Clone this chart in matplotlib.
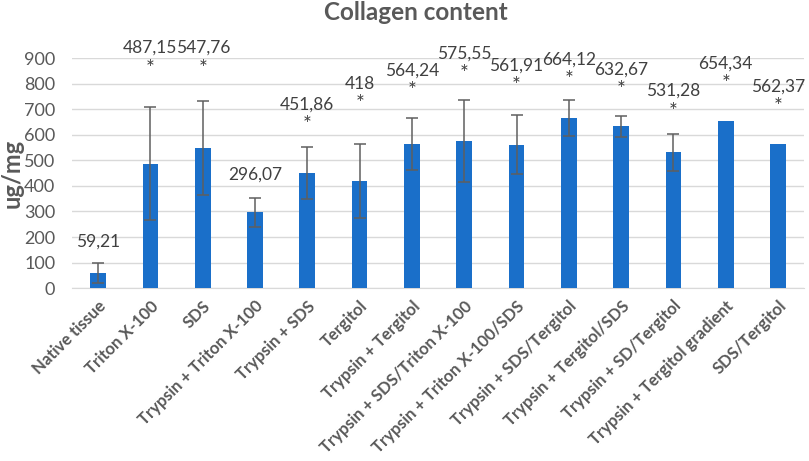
import numpy as np
import matplotlib.pyplot as plt

plt.rcParams['font.family'] = ['Lato', 'DejaVu Sans']

# données
categories = ['Native tissue', 'Triton X-100', 'SDS', 'Trypsin + Triton X-100',
              'Trypsin + SDS', 'Tergitol', 'Trypsin + Tergitol',
              'Trypsin + SDS/Triton X-100', 'Trypsin + Triton X-100/SDS',
              'Trypsin + SDS/Tergitol', 'Trypsin + Tergitol/SDS',
              'Trypsin + SD/Tergitol', 'Trypsin + Tergitol gradient', 'SDS/Tergitol']
values = [59.21, 487.15, 547.76, 296.07, 451.86, 418, 564.24, 575.55,
          561.91, 664.12, 632.67, 531.28, 654.34, 562.37]
errors = [38, 220, 184, 58, 102, 145, 101, 160, 115, 70, 41, 72, 0, 0]
significant = [False, True, True, False, True, True, True, True, True,
               True, True, True, True, True]

# hauteur des étiquettes (placées à la main dans l'original)
label_y = [182, 939, 939, 445, 718, 800, 852, 917, 871, 893, 854, 771, 880, 789]

grey = '#595959'
x = np.arange(len(categories))

fig = plt.figure(figsize=(8.09, 4.61), dpi=100)
ax = fig.add_axes([0.089, 0.375, 0.905, 0.499])

ax.bar(x, values, width=0.3, color='#1a6fc9', zorder=3)
errs = np.array(errors, dtype=float)
mask = errs > 0
ax.errorbar(x[mask], np.array(values)[mask], yerr=errs[mask], fmt='none',
            ecolor='#5f5f5f', elinewidth=1.1, capsize=4, capthick=1.1, zorder=4)

for xi, v, ly, sig in zip(x, values, label_y, significant):
    txt = f'{v:g}'.replace('.', ',')
    ax.text(xi, ly, txt, ha='center', va='center', fontsize=12.5,
            color='#404040', clip_on=False)
    if sig:
        ax.text(xi, ly - 80, '*', ha='center', va='center', fontsize=15,
                color='#404040', clip_on=False)

ax.set_xlim(-0.5, len(categories) - 0.5)
ax.set_ylim(0, 900)
ax.set_yticks(np.arange(0, 901, 100))
ax.grid(axis='y', color='#d9d9d9', linewidth=1, zorder=0)
for s in ['top', 'right', 'left']:
    ax.spines[s].set_visible(False)
ax.spines['bottom'].set_color('#d9d9d9')
ax.tick_params(axis='both', length=0, colors=grey)
ax.tick_params(axis='y', pad=12, labelsize=13)
ax.tick_params(axis='x', pad=7)

ax.set_xticks(x)
ax.set_xticklabels(categories, rotation=45, ha='right', rotation_mode='anchor',
                   fontweight='bold', fontsize=12, color=grey)
ax.set_ylabel('ug/mg', fontsize=17, fontweight='bold', color=grey)
ax.yaxis.set_label_coords(-0.066, 0.5)

fig.text(0.514, 0.972, 'Collagen content', fontsize=17.5, fontweight='bold',
         color=grey, ha='center', va='center')

fig.savefig('out.png', dpi=100)
